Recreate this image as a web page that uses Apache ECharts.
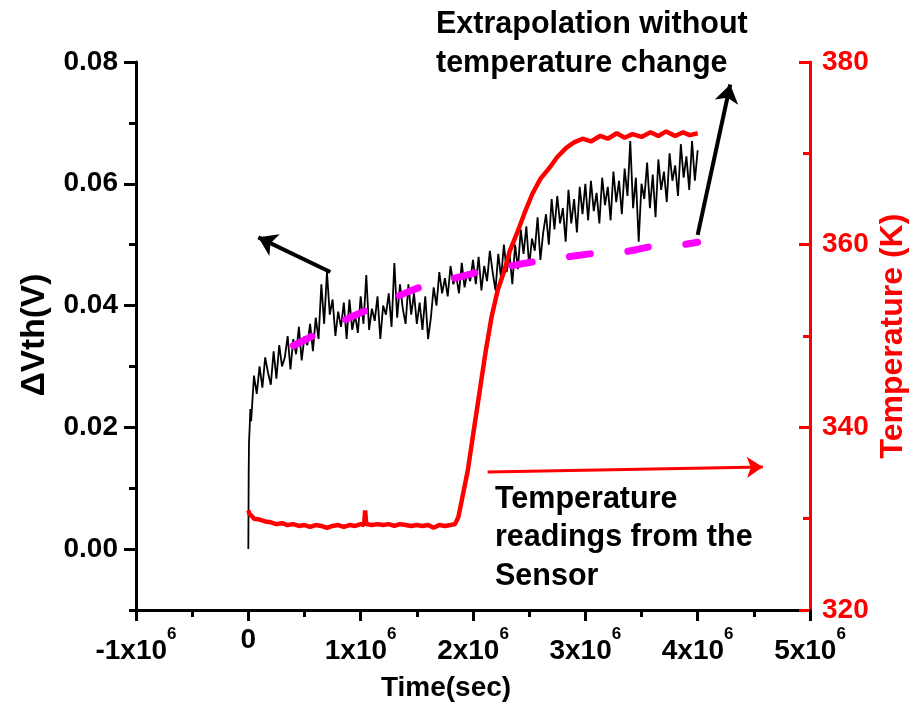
<!DOCTYPE html>
<html>
<head>
<meta charset="utf-8">
<script src="https://cdn.jsdelivr.net/npm/echarts/dist/echarts.min.js"></script>
<style>html,body{margin:0;padding:0;background:#fff;}#c{width:914px;height:708px;}</style>
</head>
<body>
<div id="c"></div>
<script>
// ---- Data (time in units of 10^6 s) ----
const dvthTime = [0, 0.003, 0.006, 0.012, 0.018,
  0.025,0.05,0.075,0.1,0.125,0.15,0.175,0.2,0.225,0.25,0.275,0.3,0.325,0.35,0.375,0.4,0.425,0.45,0.475,0.5,0.525,0.55,0.575,0.6,0.625,0.65,0.675,0.7,0.725,0.75,0.775,0.8,0.825,0.85,0.875,0.9,0.925,0.95,0.975,1.0,
  1.025,1.05,1.075,1.1,1.125,1.15,1.175,1.2,1.225,1.25,1.275,1.3,1.325,1.35,1.375,1.4,1.425,1.45,1.475,1.5,1.525,1.55,1.575,1.6,1.625,1.65,1.675,1.7,1.725,1.75,1.775,1.8,1.825,1.85,1.875,1.9,1.925,1.95,1.975,2.0,
  2.025,2.05,2.075,2.1,2.125,2.15,2.175,2.2,2.225,2.25,2.275,2.3,2.325,2.35,2.375,2.4,2.425,2.45,2.475,2.5,2.525,2.55,2.575,2.6,2.625,2.65,2.675,2.7,2.725,2.75,2.775,2.8,2.825,2.85,2.875,2.9,2.925,2.95,2.975,3.0,
  3.025,3.05,3.075,3.1,3.125,3.15,3.175,3.2,3.225,3.25,3.275,3.3,3.325,3.35,3.375,3.4,3.425,3.45,3.475,3.5,3.525,3.55,3.575,3.6,3.625,3.65,3.675,3.7,3.725,3.75,3.775,3.8,3.825,3.85,3.875,3.9,3.925,3.95,3.975,4.0];
// ΔVth in mV
const dvthMilliV = [0, 12, 17.5, 20, 23,
  21.0,28.5,25.5,30.0,26.5,31.5,29.0,27.0,32.5,28.0,33.5,30.0,31.5,35.0,29.5,34.5,32.0,36.5,31.0,35.0,33.5,37.0,32.5,38.0,34.5,43.5,37.0,45.5,38.5,41.0,35.0,39.0,36.5,40.5,34.5,41.0,36.0,38.5,35.5,41.5,
  37.0,45.0,36.0,39.5,37.5,41.5,34.5,40.0,38.5,42.0,36.5,47.0,38.0,43.5,39.5,37.0,43.5,38.5,42.0,37.0,40.5,36.0,41.5,34.5,38.0,43.0,40.0,45.5,42.0,44.5,41.5,46.5,43.5,45.0,42.0,47.0,43.0,45.5,44.0,47.5,
  43.5,48.0,42.5,46.5,44.0,49.0,45.5,42.5,48.5,44.5,50.0,45.5,48.5,43.5,50.0,46.0,52.5,48.5,53.0,46.5,51.0,49.0,54.5,47.5,52.0,55.0,50.0,57.5,52.5,58.0,53.5,56.0,50.5,59.0,53.5,57.5,52.0,59.5,55.0,60.0,
  54.0,60.5,55.5,58.5,53.5,61.0,56.5,59.5,54.0,62.0,57.0,60.5,55.0,62.5,58.0,67.0,56.0,61.0,50.5,60.0,57.5,63.5,56.0,61.5,54.5,64.0,59.0,62.0,57.0,65.0,60.5,63.0,58.0,66.5,61.0,64.5,59.0,67.0,60.5,65.5];

const extrapTime = [0.4,0.63,0.9,1.13,1.39,1.62,1.9,2.12,2.39,2.61,2.88,3.11,3.37,3.6,3.86,4.0];
const extrapMilliV = [33.4,35.5,38.0,39.8,42.0,43.5,44.8,45.8,46.7,47.4,48.1,48.6,48.9,49.7,50.0,50.4];

const tempTime = [0,0.01,0.03,0.05,0.1,0.15,0.2,0.25,0.3,0.35,0.4,0.45,0.5,0.55,0.6,0.65,0.7,0.75,0.8,0.85,0.9,0.95,1.0,1.03,1.04,1.05,1.1,1.15,1.2,1.25,1.3,1.35,1.4,1.45,1.5,1.55,1.6,1.65,1.7,1.75,1.8,1.84,1.87,1.9,1.954,2.007,2.06,2.114,2.167,2.22,2.28,2.327,2.39,2.46,2.53,2.6,2.68,2.75,2.83,2.9,2.975,3.05,3.13,3.2,3.28,3.35,3.42,3.5,3.58,3.65,3.72,3.8,3.87,3.93,4.0];
const tempK = [330.9,330.5,330.3,330.0,329.9,329.7,329.6,329.4,329.5,329.3,329.4,329.2,329.3,329.1,329.3,329.2,329.0,329.2,329.3,329.1,329.3,329.2,329.4,329.3,330.9,329.4,329.3,329.4,329.3,329.4,329.2,329.4,329.3,329.2,329.3,329.2,329.3,329.0,329.3,329.2,329.3,329.4,330.2,332.0,335.3,339.7,344.0,348.4,352.2,355.0,357.2,359.3,361.2,363.5,365.6,367.2,368.4,369.6,370.6,371.2,371.6,371.3,371.9,371.6,372.2,371.7,372.1,371.8,372.3,371.9,372.4,371.9,372.3,372.0,372.2];

// annotation arrows [startTime, startValue, endTime, endValue]
const arrowToLeftAxis = [0.73, 0.0455, 0.089, 0.0512];
const arrowExtrap = [4.0, 0.0516, 4.29, 0.0763];
const arrowToRightAxis = [2.13, 335.1, 4.58, 335.65];

// ---- Chart ----
const FONT = 'Liberation Sans, Arial, Helvetica, sans-serif';
const dvthData = dvthTime.map((t,i)=>[t, dvthMilliV[i]/1000]);
const extrapData = extrapTime.map((t,i)=>[t, extrapMilliV[i]/1000]);
const tempData = tempTime.map((t,i)=>[t, tempK[i]]);
const seg = a => [{coord:[a[0],a[1]]},{coord:[a[2],a[3]]}];

// main plot area: x 136..810, y 62..610 ; left axis -0.01..0.08
const GRID = {left:136, right:104, top:62, bottom:98};
// helper grid spanning 0..0.08 of the same left scale (major ticks + labels)
const GRID_MAJOR = {left:136, right:104, top:62, bottom:98 + (610 - 62) / 9};

const chart = echarts.init(document.getElementById('c'), null, {renderer:'canvas'});
chart.setOption({
  animation:false,
  backgroundColor:'#fff',
  grid:[GRID, GRID_MAJOR],
  xAxis:[
    {
      gridIndex:0, type:'value', min:-1, max:5, interval:1,
      axisLine:{show:true, onZero:false, lineStyle:{color:'#000', width:3}},
      axisTick:{show:true, length:11, lineStyle:{color:'#000', width:3}},
      minorTick:{show:true, splitNumber:2, length:7, lineStyle:{color:'#000', width:3}},
      splitLine:{show:false}, minorSplitLine:{show:false},
      axisLabel:{
        margin:16, color:'#000', fontFamily:FONT,
        formatter: v => v === 0 ? '{z|0}' : '{n|' + v + 'x10}{s|6}',
        rich:{
          z:{fontSize:28, fontWeight:'bold', fontFamily:FONT, color:'#000', lineHeight:30, verticalAlign:'top'},
          n:{fontSize:28, fontWeight:'bold', fontFamily:FONT, color:'#000', lineHeight:50},
          s:{fontSize:17, fontWeight:'bold', fontFamily:FONT, color:'#000', lineHeight:17, verticalAlign:'top'}
        }
      }
    },
    {gridIndex:1, type:'value', min:-1, max:5, show:false}
  ],
  yAxis:[
    {
      gridIndex:0, type:'value', position:'left', min:-0.01, max:0.08, interval:0.01,
      axisLine:{show:true, onZero:false, lineStyle:{color:'#000', width:3}},
      axisTick:{show:true, length:7, lineStyle:{color:'#000', width:3}},
      axisLabel:{show:false},
      splitLine:{show:false}
    },
    {
      gridIndex:0, type:'value', position:'right', min:320, max:380, interval:20,
      axisLine:{show:true, onZero:false, lineStyle:{color:'#ff0000', width:3}},
      axisTick:{show:true, inside:true, length:11, lineStyle:{color:'#ff0000', width:3}},
      minorTick:{show:true, splitNumber:2, length:7, lineStyle:{color:'#ff0000', width:3}},
      axisLabel:{fontSize:28, fontWeight:'bold', fontFamily:FONT, color:'#ff0000', margin:12},
      splitLine:{show:false}, minorSplitLine:{show:false}
    },
    {
      gridIndex:1, type:'value', position:'left', min:0, max:0.08, interval:0.02,
      axisLine:{show:false, onZero:false},
      axisTick:{show:true, length:12, lineStyle:{color:'#000', width:3}},
      axisLabel:{formatter:v=>v.toFixed(2), fontSize:28, fontWeight:'bold', fontFamily:FONT, color:'#000', margin:18},
      splitLine:{show:false}
    }
  ],
  graphic:[
    {type:'text', x:35, y:335, rotation:Math.PI/2, style:{text:'ΔVth(V)', font:'bold 33.5px ' + FONT, fill:'#000', align:'center', verticalAlign:'middle'}},
    {type:'text', x:893, y:336, rotation:Math.PI/2, style:{text:'Temperature (K)', font:'bold 32px ' + FONT, fill:'#ff0000', align:'center', verticalAlign:'middle'}},
    {type:'text', x:446, y:688, style:{text:'Time(sec)', font:'bold 28px ' + FONT, fill:'#000', align:'center', verticalAlign:'middle'}},
    {type:'text', left:436, top:5, style:{text:'Extrapolation without\ntemperature change', font:'bold 30.5px ' + FONT, lineHeight:39, fill:'#000'}},
    {type:'text', left:495, top:480, style:{text:'Temperature\nreadings from the\nSensor', font:'bold 30.5px ' + FONT, lineHeight:38.5, fill:'#000'}}
  ],
  series:[
    {
      type:'line', name:'dvth', xAxisIndex:0, yAxisIndex:0, data:dvthData, showSymbol:false, symbol:'none',
      lineStyle:{color:'#000', width:1.8}, z:2, silent:true,
      markLine:{
        silent:true, symbol:['none','arrow'], symbolSize:18,
        label:{show:false}, lineStyle:{color:'#000', width:4, type:'solid'},
        data:[seg(arrowToLeftAxis), seg(arrowExtrap)]
      }
    },
    {
      type:'line', name:'extrap', xAxisIndex:0, yAxisIndex:0, data:extrapData, smooth:true, showSymbol:false, symbol:'none',
      lineStyle:{color:'#ff00ff', width:7, type:[21,37.5], cap:'round'}, z:3, silent:true
    },
    {
      type:'line', name:'temp', xAxisIndex:0, yAxisIndex:1, data:tempData, showSymbol:false, symbol:'none',
      lineStyle:{color:'#ff0000', width:4.5}, z:4, silent:true,
      markLine:{
        silent:true, symbol:['none','arrow'], symbolSize:16,
        label:{show:false}, lineStyle:{color:'#ff0000', width:3, type:'solid'},
        data:[seg(arrowToRightAxis)]
      }
    }
  ]
});
</script>
</body>
</html>
